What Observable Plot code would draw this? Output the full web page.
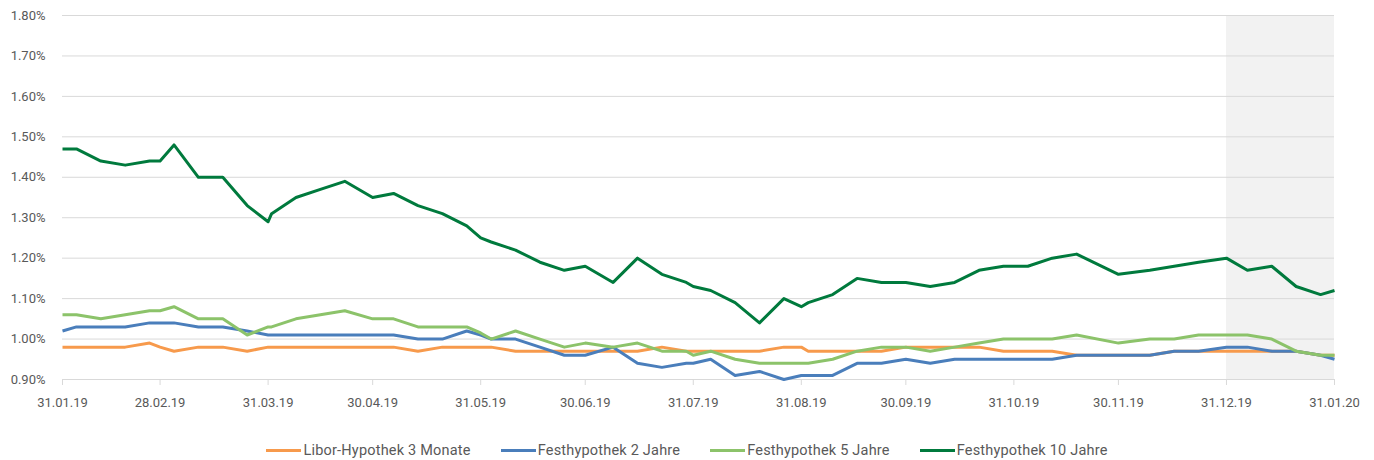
<!DOCTYPE html>
<html>
<head>
<meta charset="utf-8">
<script src="https://cdn.jsdelivr.net/npm/d3@7"></script>
<script src="https://cdn.jsdelivr.net/npm/@observablehq/plot@0.6"></script>
<style>
  html, body { margin: 0; padding: 0; background: #fff; }
  #chart { width: 1374px; }
  .legend { display: flex; justify-content: center; align-items: center; gap: 30px;
    font-family: Roboto, sans-serif; font-size: 14.5px; color: #595959; height: 30px; padding-top: 10px; letter-spacing: 0.2px; }
  .item { display: flex; align-items: center; gap: 2px; }
  .sw { width: 35px; height: 3px; display: inline-block; }
</style>
</head>
<body>
<div id="chart"></div>
<div class="legend" id="legend"></div>
<script>
const dates = [
  "2019-01-31","2019-02-04","2019-02-11","2019-02-18","2019-02-25","2019-02-28","2019-03-04","2019-03-11",
  "2019-03-18","2019-03-25","2019-03-31","2019-04-01","2019-04-08","2019-04-15","2019-04-22","2019-04-30",
  "2019-05-06","2019-05-13","2019-05-20","2019-05-27","2019-05-31","2019-06-03","2019-06-10","2019-06-17",
  "2019-06-24","2019-06-30","2019-07-08","2019-07-15","2019-07-22","2019-07-29","2019-07-31","2019-08-05",
  "2019-08-12","2019-08-19","2019-08-26","2019-08-31","2019-09-02","2019-09-09","2019-09-16","2019-09-23",
  "2019-09-30","2019-10-07","2019-10-14","2019-10-21","2019-10-28","2019-11-04","2019-11-11","2019-11-18",
  "2019-11-30","2019-12-09","2019-12-16","2019-12-23","2019-12-31","2020-01-06","2020-01-13","2020-01-20",
  "2020-01-27","2020-01-31"
];
const libor3M = [
  0.98,0.98,0.98,0.98,0.99,0.98,0.97,0.98,
  0.98,0.97,0.98,0.98,0.98,0.98,0.98,0.98,
  0.98,0.97,0.98,0.98,0.98,0.98,0.97,0.97,
  0.97,0.97,0.97,0.97,0.98,0.97,0.97,0.97,
  0.97,0.97,0.98,0.98,0.97,0.97,0.97,0.97,
  0.98,0.98,0.98,0.98,0.97,0.97,0.97,0.96,
  0.96,0.96,0.97,0.97,0.97,0.97,0.97,0.97,
  0.96,0.96
];
const fest2J = [
  1.02,1.03,1.03,1.03,1.04,1.04,1.04,1.03,
  1.03,1.02,1.01,1.01,1.01,1.01,1.01,1.01,
  1.01,1.00,1.00,1.02,1.01,1.00,1.00,0.98,
  0.96,0.96,0.98,0.94,0.93,0.94,0.94,0.95,
  0.91,0.92,0.90,0.91,0.91,0.91,0.94,0.94,
  0.95,0.94,0.95,0.95,0.95,0.95,0.95,0.96,
  0.96,0.96,0.97,0.97,0.98,0.98,0.97,0.97,
  0.96,0.95
];
const fest5J = [
  1.06,1.06,1.05,1.06,1.07,1.07,1.08,1.05,
  1.05,1.01,1.03,1.03,1.05,1.06,1.07,1.05,
  1.05,1.03,1.03,1.03,1.015,1.00,1.02,1.00,
  0.98,0.99,0.98,0.99,0.97,0.97,0.96,0.97,
  0.95,0.94,0.94,0.94,0.94,0.95,0.97,0.98,
  0.98,0.97,0.98,0.99,1.00,1.00,1.00,1.01,
  0.99,1.00,1.00,1.01,1.01,1.01,1.00,0.97,
  0.96,0.96
];
const fest10J = [
  1.47,1.47,1.44,1.43,1.44,1.44,1.48,1.40,
  1.40,1.33,1.29,1.31,1.35,1.37,1.39,1.35,
  1.36,1.33,1.31,1.28,1.25,1.24,1.22,1.19,
  1.17,1.18,1.14,1.20,1.16,1.14,1.13,1.12,
  1.09,1.04,1.10,1.08,1.09,1.11,1.15,1.14,
  1.14,1.13,1.14,1.17,1.18,1.18,1.20,1.21,
  1.16,1.17,1.18,1.19,1.20,1.17,1.18,1.13,
  1.11,1.12
];
const seriesNames = ["Libor-Hypothek 3 Monate","Festhypothek 2 Jahre","Festhypothek 5 Jahre","Festhypothek 10 Jahre"];
const seriesColors = ["#f79a4c","#4a7ebb","#8cc36a","#007a3d"];
const tickDates = ["2019-01-31","2019-02-28","2019-03-31","2019-04-30","2019-05-31","2019-06-30","2019-07-31",
  "2019-08-31","2019-09-30","2019-10-31","2019-11-30","2019-12-31","2020-01-31"];
const tickLabels = ["31.01.19","28.02.19","31.03.19","30.04.19","31.05.19","30.06.19","31.07.19",
  "31.08.19","30.09.19","31.10.19","30.11.19","31.12.19","31.01.20"];
const yTicks = [0.9,1.0,1.1,1.2,1.3,1.4,1.5,1.6,1.7,1.8];
const shadeRange = ["2019-12-31","2020-01-31"];

const seriesValues = [libor3M, fest2J, fest5J, fest10J];
const parse = s => new Date(s + "T00:00:00Z");
const rows = [];
seriesValues.forEach((vals, si) => vals.forEach((v, i) => rows.push({series: seriesNames[si], date: parse(dates[i]), value: v})));
const tickD = tickDates.map(parse);

const plot = Plot.plot({
  width: 1374,
  height: 425,
  marginLeft: 62,
  marginRight: 40,
  marginTop: 15,
  marginBottom: 46,
  style: {fontFamily: "Roboto, sans-serif", fontSize: "13px", color: "#595959", background: "#fff"},
  x: {type: "utc", domain: [parse(dates[0]), parse(dates[dates.length - 1])], label: null},
  y: {domain: [0.9, 1.8], label: null},
  color: {domain: seriesNames, range: seriesColors},
  marks: [
    Plot.rect([{x1: parse(shadeRange[0]), x2: parse(shadeRange[1])}], {x1: "x1", x2: "x2", y1: 0.9, y2: 1.8, fill: "#f2f2f2"}),
    Plot.gridY(yTicks, {stroke: "#d9d9d9", strokeOpacity: 1, strokeWidth: 1}),
    Plot.axisY(yTicks, {tickFormat: d => d.toFixed(2) + "%", tickSize: 0, tickPadding: 17, fill: "#595959", label: null}),
    Plot.axisX(tickD, {tickFormat: (d, i) => tickLabels[tickD.findIndex(t => +t === +d)], tickSize: 6, tickPadding: 12, stroke: "#d9d9d9", fill: "#595959", label: null}),
    Plot.line(rows, {x: "date", y: "value", z: "series", stroke: "series", strokeWidth: 3, strokeLinejoin: "round", strokeLinecap: "butt"})
  ]
});
document.getElementById("chart").appendChild(plot);

const legend = document.getElementById("legend");
seriesNames.forEach((n, i) => {
  const it = document.createElement("div");
  it.className = "item";
  const sw = document.createElement("span");
  sw.className = "sw";
  sw.style.background = seriesColors[i];
  const t = document.createElement("span");
  t.textContent = n;
  it.appendChild(sw); it.appendChild(t);
  legend.appendChild(it);
});
</script>
</body>
</html>
